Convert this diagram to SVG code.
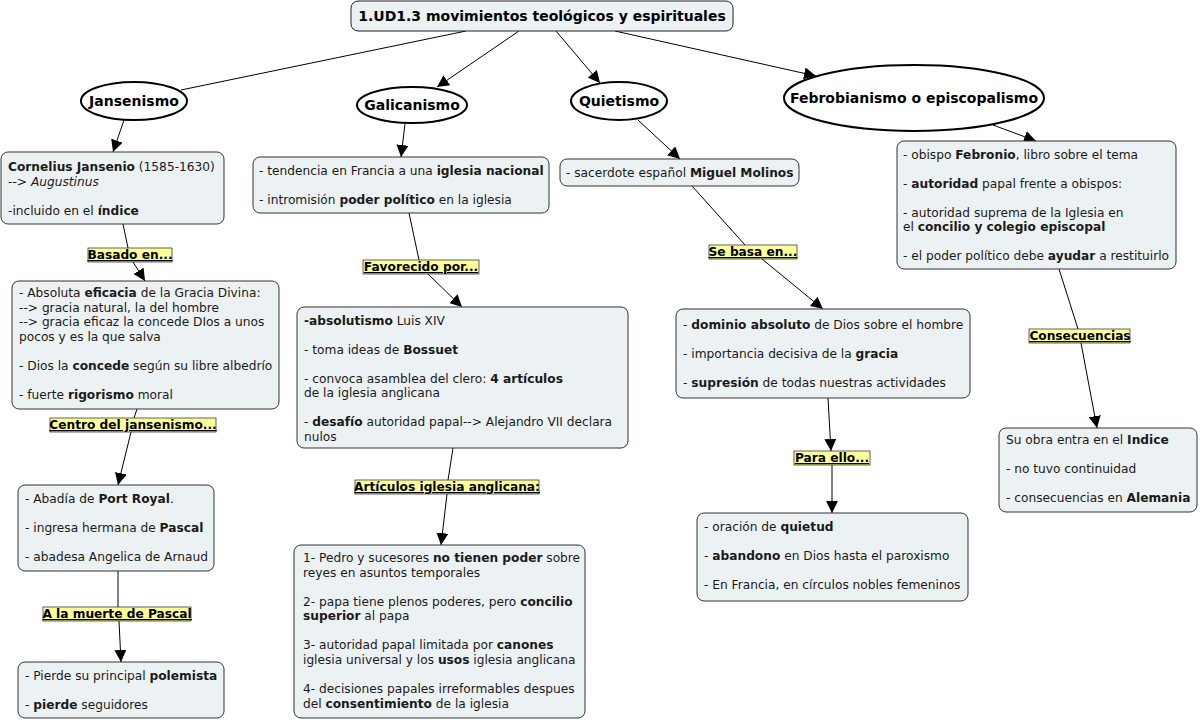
<svg xmlns="http://www.w3.org/2000/svg" width="1200" height="722" viewBox="0 0 1200 722">
<style>
.t{font-family:"DejaVu Sans",Verdana,sans-serif;font-size:12.2px;fill:#1a1a1a}
.b{font-weight:bold}
.i{font-style:italic}
.box{fill:#ecf1f3;stroke:#333;stroke-width:1}
.ell{fill:#fff;stroke:#000;stroke-width:2}
.et{font-family:"DejaVu Sans",Verdana,sans-serif;font-size:14px;font-weight:bold;fill:#000;text-anchor:middle}
.lbl{fill:#ffff99;stroke:#222;stroke-width:0.7}
.lt{font-family:"DejaVu Sans",Verdana,sans-serif;font-size:12.2px;font-weight:bold;fill:#000;text-anchor:middle;text-decoration:underline}
.c{stroke:#000;stroke-width:1;fill:none}
.a{marker-end:url(#arr)}
</style>
<defs>
<marker id="arr" markerUnits="userSpaceOnUse" markerWidth="12" markerHeight="12" refX="12" refY="6" orient="auto" viewBox="0 0 12 12">
<path d="M0,0 L12,6 L0,12 z" fill="#000"/>
</marker>
</defs>

<g id="connectors">
<line class="c" x1="466" y1="31" x2="181" y2="90"/>
<line class="c a" x1="519" y1="31" x2="437" y2="87"/>
<line class="c a" x1="556" y1="31" x2="600" y2="83"/>
<line class="c a" x1="615" y1="31" x2="816" y2="76"/>
<line class="c a" x1="124" y1="120" x2="113" y2="152"/>
<line class="c a" x1="405" y1="124" x2="401" y2="157"/>
<line class="c a" x1="638" y1="120" x2="680" y2="159"/>
<line class="c a" x1="993" y1="125" x2="1036" y2="141"/>
<line class="c" x1="123" y1="224" x2="128" y2="248"/>
<line class="c a" x1="133" y1="262" x2="145" y2="281"/>
<line class="c" x1="137" y1="409" x2="134" y2="418"/>
<line class="c a" x1="131" y1="432" x2="118" y2="485"/>
<line class="c" x1="118" y1="571" x2="118" y2="607"/>
<line class="c a" x1="119" y1="621" x2="121" y2="662"/>
<line class="c" x1="409" y1="213" x2="419" y2="260"/>
<line class="c a" x1="428" y1="274" x2="462" y2="307"/>
<line class="c" x1="453" y1="448" x2="448" y2="480"/>
<line class="c a" x1="447" y1="494" x2="441" y2="545"/>
<line class="c" x1="692" y1="186" x2="745" y2="245"/>
<line class="c a" x1="762" y1="259" x2="823" y2="309"/>
<line class="c a" x1="828" y1="398" x2="831" y2="451"/>
<line class="c a" x1="832" y1="465" x2="832" y2="513"/>
<line class="c" x1="1059" y1="269" x2="1078" y2="329"/>
<line class="c a" x1="1081" y1="343" x2="1097" y2="428"/>
</g>

<g id="title">
<rect x="351" y="1" width="382" height="30" rx="7" class="box" style="stroke:#222"/>
<text x="542" y="21" class="et">1.UD1.3 movimientos teológicos y espirituales</text>
</g>

<g id="jansenismo">
<ellipse cx="134" cy="101" rx="53" ry="19" class="ell"/>
<text x="134" y="106" class="et">Jansenismo</text>
</g>
<g id="galicanismo">
<ellipse cx="412" cy="105" rx="55" ry="18" class="ell"/>
<text x="412" y="110" class="et">Galicanismo</text>
</g>
<g id="quietismo">
<ellipse cx="619" cy="101" rx="48" ry="19" class="ell"/>
<text x="619" y="106" class="et">Quietismo</text>
</g>
<g id="febrobianismo">
<ellipse cx="914" cy="98" rx="130" ry="33" class="ell"/>
<text x="914" y="103" class="et">Febrobianismo o episcopalismo</text>
</g>

<g id="jansenio">
<rect x="1" y="152" width="223" height="72" rx="7" class="box"/>
<text class="t"><tspan x="8" y="171"><tspan class="b">Cornelius Jansenio</tspan> (1585-1630)</tspan><tspan x="8" y="186">--&gt; <tspan class="i">Augustinus</tspan></tspan><tspan x="8" y="215">-incluido en el <tspan class="b">índice</tspan></tspan></text>
</g>

<g id="galicanismo-det">
<rect x="253" y="157" width="296" height="56" rx="7" class="box"/>
<text class="t"><tspan x="259" y="175">- tendencia en Francia a una <tspan class="b">iglesia nacional</tspan></tspan><tspan x="259" y="204">- intromisión <tspan class="b">poder político</tspan> en la iglesia</tspan></text>
</g>

<g id="molinos">
<rect x="560" y="159" width="239" height="27" rx="7" class="box"/>
<text class="t" x="566" y="177">- sacerdote español <tspan class="b">Miguel Molinos</tspan></text>
</g>

<g id="febronio">
<rect x="897" y="141" width="279" height="128" rx="7" class="box"/>
<text class="t"><tspan x="903" y="159">- obispo <tspan class="b">Febronio</tspan>, libro sobre el tema</tspan><tspan x="903" y="188">- <tspan class="b">autoridad</tspan> papal frente a obispos:</tspan><tspan x="903" y="217">- autoridad suprema de la Iglesia en</tspan><tspan x="903" y="231">el <tspan class="b">concilio y colegio episcopal</tspan></tspan><tspan x="903" y="260">- el poder político debe <tspan class="b">ayudar</tspan> a restituirlo</tspan></text>
</g>

<g id="eficacia">
<rect x="12" y="281" width="267" height="128" rx="7" class="box"/>
<text class="t"><tspan x="19" y="297">- Absoluta <tspan class="b">eficacia</tspan> de la Gracia Divina:</tspan><tspan x="19" y="312">--&gt; gracia natural, la del hombre</tspan><tspan x="19" y="326">--&gt; gracia eficaz la concede DIos a unos</tspan><tspan x="19" y="341">pocos y es la que salva</tspan><tspan x="19" y="370">- Dios la <tspan class="b">concede</tspan> según su libre albedrío</tspan><tspan x="19" y="399">- fuerte <tspan class="b">rigorismo</tspan> moral</tspan></text>
</g>

<g id="port-royal">
<rect x="18" y="485" width="196" height="86" rx="7" class="box"/>
<text class="t"><tspan x="25" y="503">- Abadía de <tspan class="b">Port Royal</tspan>.</tspan><tspan x="25" y="532">- ingresa hermana de <tspan class="b">Pascal</tspan></tspan><tspan x="25" y="561">- abadesa Angelica de Arnaud</tspan></text>
</g>

<g id="pierde">
<rect x="18" y="662" width="206" height="56" rx="7" class="box"/>
<text class="t"><tspan x="25" y="680">- Pierde su principal <tspan class="b">polemista</tspan></tspan><tspan x="25" y="709">- <tspan class="b">pierde</tspan> seguidores</tspan></text>
</g>

<g id="absolutismo">
<rect x="297" y="307" width="331" height="141" rx="7" class="box"/>
<text class="t"><tspan x="304" y="325"><tspan class="b">-absolutismo</tspan> Luis XIV</tspan><tspan x="304" y="354">- toma ideas de <tspan class="b">Bossuet</tspan></tspan><tspan x="304" y="383">- convoca asamblea del clero: <tspan class="b">4 artículos</tspan></tspan><tspan x="304" y="397">de la iglesia anglicana</tspan><tspan x="304" y="426">- <tspan class="b">desafío</tspan> autoridad papal--&gt; Alejandro VII declara</tspan><tspan x="304" y="441">nulos</tspan></text>
</g>

<g id="articulos">
<rect x="294" y="545" width="291" height="173" rx="7" class="box"/>
<text class="t"><tspan x="303" y="562">1- Pedro y sucesores <tspan class="b">no tienen poder</tspan> sobre</tspan><tspan x="303" y="577">reyes en asuntos temporales</tspan><tspan x="303" y="606">2- papa tiene plenos poderes, pero <tspan class="b">concilio</tspan></tspan><tspan x="303" y="620"><tspan class="b">superior</tspan> al papa</tspan><tspan x="303" y="649">3- autoridad papal limitada por <tspan class="b">canones</tspan></tspan><tspan x="303" y="664">iglesia universal y los <tspan class="b">usos</tspan> iglesia anglicana</tspan><tspan x="303" y="693">4- decisiones papales irreformables despues</tspan><tspan x="303" y="708">del <tspan class="b">consentimiento</tspan> de la iglesia</tspan></text>
</g>

<g id="dominio">
<rect x="676" y="309" width="294" height="89" rx="7" class="box"/>
<text class="t"><tspan x="683" y="329">- <tspan class="b">dominio absoluto</tspan> de Dios sobre el hombre</tspan><tspan x="683" y="358">- importancia decisiva de la <tspan class="b">gracia</tspan></tspan><tspan x="683" y="387">- <tspan class="b">supresión</tspan> de todas nuestras actividades</tspan></text>
</g>

<g id="oracion">
<rect x="697" y="513" width="271" height="88" rx="7" class="box"/>
<text class="t"><tspan x="704" y="531">- oración de <tspan class="b">quietud</tspan></tspan><tspan x="704" y="560">- <tspan class="b">abandono</tspan> en Dios hasta el paroxismo</tspan><tspan x="704" y="589">- En Francia, en círculos nobles femeninos</tspan></text>
</g>

<g id="su-obra">
<rect x="999" y="428" width="198" height="84" rx="7" class="box"/>
<text class="t"><tspan x="1006" y="444">Su obra entra en el <tspan class="b">Indice</tspan></tspan><tspan x="1006" y="473">- no tuvo continuidad</tspan><tspan x="1006" y="502">- consecuencias en <tspan class="b">Alemania</tspan></tspan></text>
</g>

<g id="label-basado">
<rect x="88" y="248" width="84" height="14" class="lbl"/>
<text x="130" y="259" class="lt">Basado en...</text>
</g>
<g id="label-centro">
<rect x="50" y="418" width="166" height="14" class="lbl"/>
<text x="133" y="429" class="lt">Centro del jansenismo...</text>
</g>
<g id="label-muerte">
<rect x="43" y="607" width="148" height="14" class="lbl"/>
<text x="117" y="618" class="lt">A la muerte de Pascal</text>
</g>
<g id="label-favorecido">
<rect x="363" y="260" width="116" height="14" class="lbl"/>
<text x="421" y="271" class="lt">Favorecido por...</text>
</g>
<g id="label-articulos">
<rect x="355" y="480" width="184" height="14" class="lbl"/>
<text x="447" y="491" class="lt">Artículos iglesia anglicana:</text>
</g>
<g id="label-sebasa">
<rect x="709" y="245" width="88" height="14" class="lbl"/>
<text x="753" y="256" class="lt">Se basa en...</text>
</g>
<g id="label-paraello">
<rect x="794" y="451" width="76" height="14" class="lbl"/>
<text x="832" y="462" class="lt">Para ello...</text>
</g>
<g id="label-consecuencias">
<rect x="1029" y="329" width="101" height="14" class="lbl"/>
<text x="1080" y="340" class="lt">Consecuencias</text>
</g>
</svg>
